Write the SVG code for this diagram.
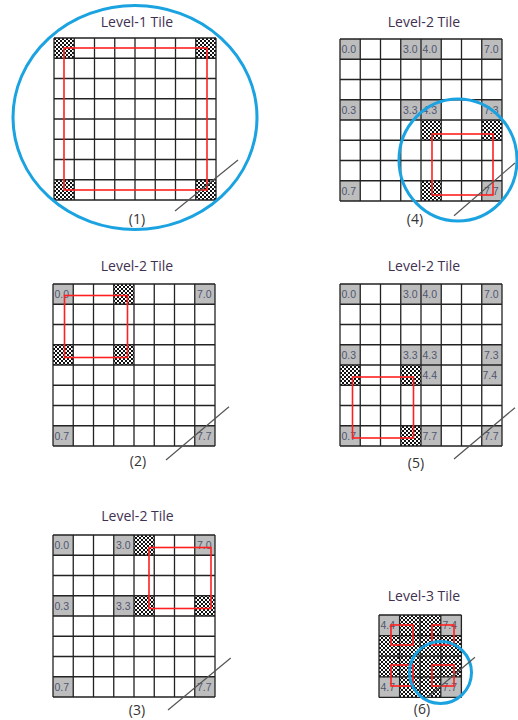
<svg xmlns="http://www.w3.org/2000/svg" xmlns:xlink="http://www.w3.org/1999/xlink" width="518" height="720" viewBox="0 0 518 720">
<style>
.title{font-family:"Open Sans","Liberation Sans",sans-serif;font-size:14px;fill:#3f3151;text-anchor:middle}
.cap{font-family:"Open Sans","Liberation Sans",sans-serif;font-size:14px;fill:#333;text-anchor:middle}
.lb{font-family:"Liberation Sans",sans-serif;font-size:10.5px;fill:#4f5670}
.g{fill:#bdbdbd}
.c{fill:url(#chk)}
.grid{fill:none;stroke:#222;stroke-width:1.3}
.red{fill:none;stroke:#ff2020;stroke-width:1.6}
.blue{fill:none;stroke:#1aa3e0;stroke-width:3}
.diag{stroke:#555;stroke-width:1.2}
</style>
<defs>
<pattern id="chk" width="4" height="4" patternUnits="userSpaceOnUse">
<rect width="4" height="4" fill="#fff"/>
<rect width="2" height="2" fill="#111"/>
<rect x="2" y="2" width="2" height="2" fill="#111"/>
</pattern>
<path id="g8" d="M0 0H162M0 20.25H162M0 40.5H162M0 60.75H162M0 81H162M0 101.25H162M0 121.5H162M0 141.75H162M0 162H162M0 0V162M20.25 0V162M40.5 0V162M60.75 0V162M81 0V162M101.25 0V162M121.5 0V162M141.75 0V162M162 0V162"/>
<path id="g4" d="M0 0H82.4M0 20.6H82.4M0 41.2H82.4M0 61.8H82.4M0 82.4H82.4M0 0V82.4M20.6 0V82.4M41.2 0V82.4M61.8 0V82.4M82.4 0V82.4"/>
</defs>

<g id="panel1">
<text class="title" x="137" y="27">Level-1 Tile</text>
<g transform="translate(54,38)">
<rect class="c" x="0" y="0" width="20.25" height="20.25"/>
<rect class="c" x="141.75" y="0" width="20.25" height="20.25"/>
<rect class="c" x="0" y="141.75" width="20.25" height="20.25"/>
<rect class="c" x="141.75" y="141.75" width="20.25" height="20.25"/>
<use xlink:href="#g8" class="grid"/>
<rect class="red" x="10" y="10" width="143" height="142"/>
</g>
<text class="cap" x="137" y="224">(1)</text>
<ellipse class="blue" cx="135" cy="117.5" rx="122" ry="112"/>
</g>

<g id="panel4">
<text class="title" x="424" y="27">Level-2 Tile</text>
<g transform="translate(340,39)">
<rect class="g" x="0" y="0" width="20.25" height="20.25"/>
<rect class="g" x="60.75" y="0" width="20.25" height="20.25"/>
<rect class="g" x="81" y="0" width="20.25" height="20.25"/>
<rect class="g" x="141.75" y="0" width="20.25" height="20.25"/>
<rect class="g" x="0" y="60.75" width="20.25" height="20.25"/>
<rect class="g" x="60.75" y="60.75" width="20.25" height="20.25"/>
<rect class="g" x="81" y="60.75" width="20.25" height="20.25"/>
<rect class="g" x="141.75" y="60.75" width="20.25" height="20.25"/>
<rect class="g" x="0" y="141.75" width="20.25" height="20.25"/>
<rect class="g" x="141.75" y="141.75" width="20.25" height="20.25"/>
<rect class="c" x="81" y="81" width="20.25" height="20.25"/>
<rect class="c" x="141.75" y="81" width="20.25" height="20.25"/>
<rect class="c" x="81" y="141.75" width="20.25" height="20.25"/>
<use xlink:href="#g8" class="grid"/>
<text class="lb" x="1.5" y="14">0.0</text>
<text class="lb" x="63" y="14">3.0</text>
<text class="lb" x="82.5" y="14">4.0</text>
<text class="lb" x="144" y="14">7.0</text>
<text class="lb" x="1.5" y="74.75">0.3</text>
<text class="lb" x="63" y="74.75">3.3</text>
<text class="lb" x="82.5" y="74.75">4.3</text>
<text class="lb" x="144" y="74.75">7.3</text>
<text class="lb" x="1.5" y="155.75">0.7</text>
<text class="lb" x="144" y="155.75">7.7</text>
<rect class="red" x="92" y="95" width="61" height="61"/>
</g>
<text class="cap" x="415" y="224">(4)</text>
<ellipse class="blue" cx="458" cy="160" rx="59" ry="61"/>
</g>

<g id="panel2">
<text class="title" x="137" y="271">Level-2 Tile</text>
<g transform="translate(53,284)">
<rect class="g" x="0" y="0" width="20.25" height="20.25"/>
<rect class="g" x="141.75" y="0" width="20.25" height="20.25"/>
<rect class="g" x="0" y="141.75" width="20.25" height="20.25"/>
<rect class="g" x="141.75" y="141.75" width="20.25" height="20.25"/>
<rect class="c" x="60.75" y="0" width="20.25" height="20.25"/>
<rect class="c" x="0" y="60.75" width="20.25" height="20.25"/>
<rect class="c" x="60.75" y="60.75" width="20.25" height="20.25"/>
<use xlink:href="#g8" class="grid"/>
<text class="lb" x="1.5" y="14">0.0</text>
<text class="lb" x="144" y="14">7.0</text>
<text class="lb" x="1.5" y="155.75">0.7</text>
<text class="lb" x="144" y="155.75">7.7</text>
<rect class="red" x="11.5" y="11.5" width="63" height="62"/>
</g>
<text class="cap" x="138" y="466">(2)</text>
</g>

<g id="panel5">
<text class="title" x="424" y="271">Level-2 Tile</text>
<g transform="translate(340,284)">
<rect class="g" x="0" y="0" width="20.25" height="20.25"/>
<rect class="g" x="60.75" y="0" width="20.25" height="20.25"/>
<rect class="g" x="81" y="0" width="20.25" height="20.25"/>
<rect class="g" x="141.75" y="0" width="20.25" height="20.25"/>
<rect class="g" x="0" y="60.75" width="20.25" height="20.25"/>
<rect class="g" x="60.75" y="60.75" width="20.25" height="20.25"/>
<rect class="g" x="81" y="60.75" width="20.25" height="20.25"/>
<rect class="g" x="141.75" y="60.75" width="20.25" height="20.25"/>
<rect class="g" x="81" y="81" width="20.25" height="20.25"/>
<rect class="g" x="141.75" y="81" width="20.25" height="20.25"/>
<rect class="g" x="0" y="141.75" width="20.25" height="20.25"/>
<rect class="g" x="81" y="141.75" width="20.25" height="20.25"/>
<rect class="g" x="141.75" y="141.75" width="20.25" height="20.25"/>
<rect class="c" x="0" y="81" width="20.25" height="20.25"/>
<rect class="c" x="60.75" y="81" width="20.25" height="20.25"/>
<rect class="c" x="60.75" y="141.75" width="20.25" height="20.25"/>
<use xlink:href="#g8" class="grid"/>
<text class="lb" x="1.5" y="14">0.0</text>
<text class="lb" x="63" y="14">3.0</text>
<text class="lb" x="82.5" y="14">4.0</text>
<text class="lb" x="144" y="14">7.0</text>
<text class="lb" x="1.5" y="74.75">0.3</text>
<text class="lb" x="63" y="74.75">3.3</text>
<text class="lb" x="82.5" y="74.75">4.3</text>
<text class="lb" x="144" y="74.75">7.3</text>
<text class="lb" x="82.5" y="95">4.4</text>
<text class="lb" x="142.5" y="95">7.4</text>
<text class="lb" x="1.5" y="155.75">0.7</text>
<text class="lb" x="82.5" y="155.75">7.7</text>
<text class="lb" x="144" y="155.75">7.7</text>
<rect class="red" x="12.5" y="93" width="61" height="61"/>
</g>
<text class="cap" x="416" y="468">(5)</text>
</g>

<g id="panel3">
<text class="title" x="137.5" y="521">Level-2 Tile</text>
<g transform="translate(53,535)">
<rect class="g" x="0" y="0" width="20.25" height="20.25"/>
<rect class="g" x="60.75" y="0" width="20.25" height="20.25"/>
<rect class="g" x="141.75" y="0" width="20.25" height="20.25"/>
<rect class="g" x="0" y="60.75" width="20.25" height="20.25"/>
<rect class="g" x="60.75" y="60.75" width="20.25" height="20.25"/>
<rect class="g" x="0" y="141.75" width="20.25" height="20.25"/>
<rect class="g" x="141.75" y="141.75" width="20.25" height="20.25"/>
<rect class="c" x="81" y="0" width="20.25" height="20.25"/>
<rect class="c" x="81" y="60.75" width="20.25" height="20.25"/>
<rect class="c" x="141.75" y="60.75" width="20.25" height="20.25"/>
<use xlink:href="#g8" class="grid"/>
<text class="lb" x="1.5" y="14">0.0</text>
<text class="lb" x="63" y="14">3.0</text>
<text class="lb" x="144" y="14">7.0</text>
<text class="lb" x="1.5" y="74.75">0.3</text>
<text class="lb" x="63" y="74.75">3.3</text>
<text class="lb" x="1.5" y="155.75">0.7</text>
<text class="lb" x="144" y="155.75">7.7</text>
<rect class="red" x="96" y="12.5" width="62" height="61"/>
</g>
<text class="cap" x="137" y="715">(3)</text>
</g>

<g id="panel6">
<text class="title" x="424" y="601">Level-3 Tile</text>
<g transform="translate(379,615)">
<rect class="c" x="0" y="0" width="82.4" height="82.4"/>
<rect class="g" x="0" y="0" width="20.6" height="20.6"/>
<rect class="g" x="61.8" y="0" width="20.6" height="20.6"/>
<rect class="g" x="0" y="61.8" width="20.6" height="20.6"/>
<rect class="g" x="61.8" y="61.8" width="20.6" height="20.6"/>
<use xlink:href="#g4" class="grid"/>
<text class="lb" x="1.5" y="14">4.4</text>
<text class="lb" x="63.5" y="14">7.4</text>
<text class="lb" x="1.5" y="76">4.7</text>
<text class="lb" x="63.5" y="76">7.7</text>
<rect class="red" x="12" y="10" width="22" height="20"/>
<rect class="red" x="53" y="10" width="22" height="20"/>
<rect class="red" x="12" y="50" width="22" height="21"/>
<rect class="red" x="53" y="50" width="22" height="21"/>
</g>
<text class="cap" x="422" y="714">(6)</text>
<circle class="blue" cx="440.5" cy="672.5" r="31"/>
</g>

<g id="connectors">
<line class="diag" x1="175" y1="211" x2="238" y2="160"/>
<line class="diag" x1="454" y1="215.7" x2="515" y2="163"/>
<line class="diag" x1="166" y1="460" x2="229" y2="406.7"/>
<line class="diag" x1="454" y1="459" x2="515" y2="407.7"/>
<line class="diag" x1="168" y1="710" x2="230.7" y2="658"/>
<line class="diag" x1="426.7" y1="698" x2="475" y2="657.3"/>
</g>
</svg>
